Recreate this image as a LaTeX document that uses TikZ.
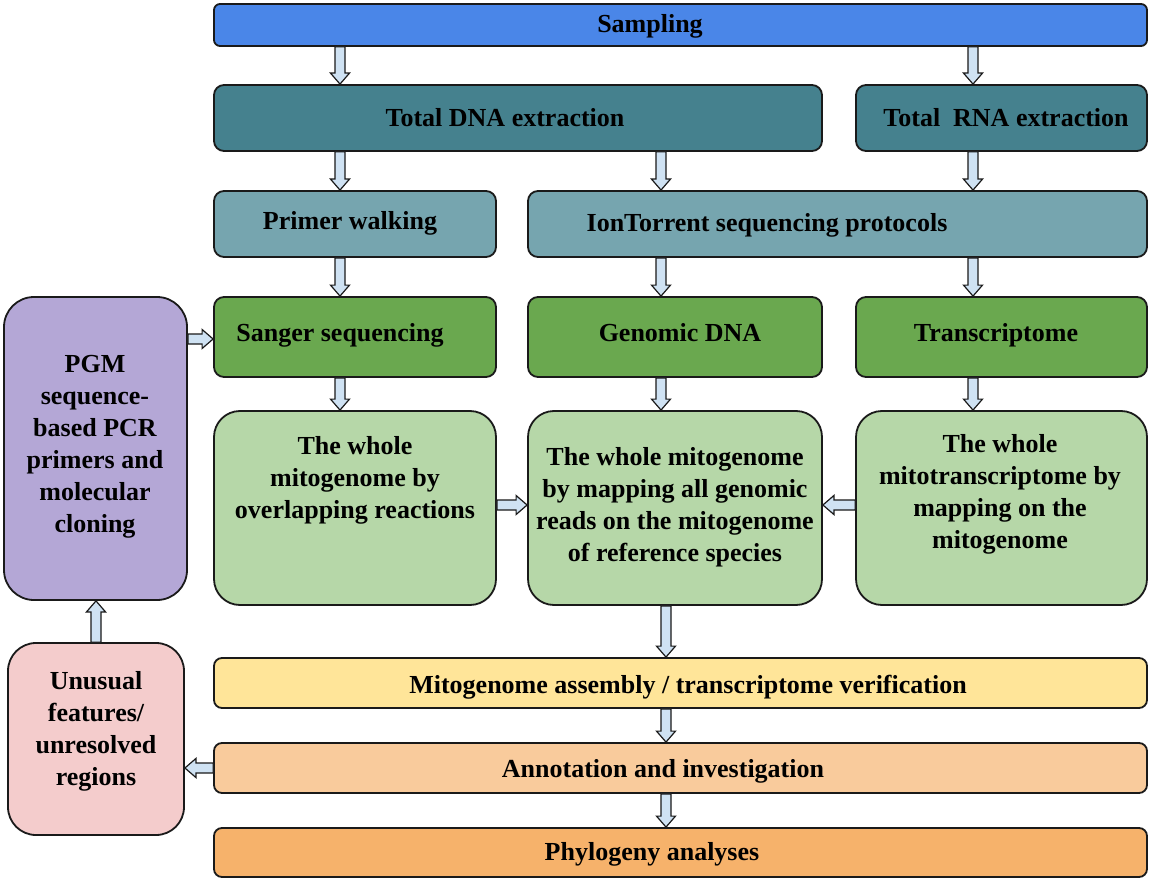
\documentclass[tikz,border=0pt]{standalone}
\usepackage{fontspec}
\setmainfont{Liberation Serif}
\usetikzlibrary{calc}
\definecolor{cSamp}{HTML}{4A86E8}
\definecolor{cTot}{HTML}{45818E}
\definecolor{cPrim}{HTML}{76A5AF}
\definecolor{cGreen}{HTML}{6AA84F}
\definecolor{cLGreen}{HTML}{B6D7A8}
\definecolor{cPurp}{HTML}{B4A7D6}
\definecolor{cPink}{HTML}{F4CCCC}
\definecolor{cYel}{HTML}{FFE599}
\definecolor{cLOr}{HTML}{F9CB9C}
\definecolor{cOr}{HTML}{F6B26B}
\definecolor{cArr}{HTML}{CFE2F3}
\definecolor{cLine}{HTML}{1A1A1A}
\tikzset{
  box/.style={draw=cLine, line width=1.8pt, inner sep=0pt},
  txt/.style={font=\bfseries\fontsize{26}{32}\selectfont, align=center, text=black, inner sep=0pt},
  arr/.style={draw=cLine, fill=cArr, line width=1.2pt, line join=miter},
}
% box: name, x1, y1, x2, y2, fill, radius
\newcommand\bx[7]{\node[box, fill=#6, rounded corners=#7, minimum width={#4-#2}, minimum height={#5-#3}] (#1) at ({(#2+#4)/2},{(#3+#5)/2}) {};}
% block arrow from #1 to #2
\newcommand\barrow[2]{\draw[arr] let \p1=(#1), \p2=(#2), \n1={veclen(\x2-\x1,\y2-\y1)}, \n2={atan2(\y2-\y1,\x2-\x1)} in [shift={(\p1)}, rotate=\n2] (0pt,-5pt) -- ({\n1-11pt},-5pt) -- ({\n1-11pt},-9.5pt) -- (\n1,0pt) -- ({\n1-11pt},9.5pt) -- ({\n1-11pt},5pt) -- (0pt,5pt) -- cycle;}
\begin{document}
\begin{tikzpicture}[x=1pt,y=-1pt]
\useasboundingbox[fill=white] (0,0) rectangle (1149,880);
% boxes
\bx{samp}{214}{4}{1147}{46}{cSamp}{6pt}
\bx{dna}{214}{85}{822}{151}{cTot}{10pt}
\bx{rna}{856}{85}{1147}{151}{cTot}{10pt}
\bx{prim}{214}{191}{496}{257}{cPrim}{10pt}
\bx{ion}{528}{191}{1147}{257}{cPrim}{10pt}
\bx{sang}{214}{297}{496}{377}{cGreen}{10pt}
\bx{gen}{528}{297}{822}{377}{cGreen}{10pt}
\bx{trans}{856}{297}{1147}{377}{cGreen}{10pt}
\bx{w1}{214}{411}{496}{605}{cLGreen}{26pt}
\bx{w2}{528}{411}{822}{605}{cLGreen}{26pt}
\bx{w3}{856}{411}{1147}{605}{cLGreen}{26pt}
\bx{pgm}{4}{297}{187}{600}{cPurp}{30pt}
\bx{unus}{8}{643}{184}{835}{cPink}{28pt}
\bx{asm}{214}{658}{1147}{708}{cYel}{8pt}
\bx{ann}{214}{743}{1147}{793}{cLOr}{8pt}
\bx{phy}{214}{828}{1147}{877}{cOr}{8pt}
% texts
\node[txt] (tsamp) at (650,26) {Sampling};
\node[txt] (tdna) at (505,118) {Total DNA extraction};
\node[txt] (trna) at (1006,118) {Total\ \ RNA extraction};
\node[txt] (tprim) at (350,223) {Primer walking};
\node[txt] (tion) at (767,225) {IonTorrent sequencing protocols};
\node[txt] (tsang) at (340,335) {Sanger sequencing};
\node[txt] (tgen) at (680,333) {Genomic DNA};
\node[txt] (ttrans) at (996,335) {Transcriptome};
\node[txt] (tw1) at (355,480) {The whole\\mitogenome by\\overlapping reactions};
\node[txt] (tw2) at (675,507) {The whole mitogenome\\by mapping all genomic\\reads on the mitogenome\\of reference species};
\node[txt] (tw3) at (1000,494) {The whole\\mitotranscriptome by\\mapping on the\\mitogenome};
\node[txt] (tpgm) at (95,447) {PGM\\sequence-\\based PCR\\primers and\\molecular\\cloning};
\node[txt] (tunus) at (96,731) {Unusual\\features/\\unresolved\\regions};
\node[txt] (tasm) at (688,687) {Mitogenome assembly / transcriptome verification};
\node[txt] (tann) at (663,771) {Annotation and investigation};
\node[txt] (tphy) at (652,854) {Phylogeny analyses};
% arrow columns
\coordinate (xa) at (340,0);
\coordinate (xb) at (661,0);
\coordinate (xc) at (973,0);
\coordinate (xd) at (666,0);
\coordinate (xe) at (96,0);
\coordinate (ya) at (0,505);
\coordinate (yb) at (0,768);
\coordinate (yc) at (0,339);
\barrow{samp.south -| xa}{dna.north -| xa}
\barrow{samp.south -| xc}{rna.north -| xc}
\barrow{dna.south -| xa}{prim.north -| xa}
\barrow{dna.south -| xb}{ion.north -| xb}
\barrow{rna.south -| xc}{ion.north -| xc}
\barrow{prim.south -| xa}{sang.north -| xa}
\barrow{ion.south -| xb}{gen.north -| xb}
\barrow{ion.south -| xc}{trans.north -| xc}
\barrow{sang.south -| xa}{w1.north -| xa}
\barrow{gen.south -| xb}{w2.north -| xb}
\barrow{trans.south -| xc}{w3.north -| xc}
\barrow{w1.east |- ya}{w2.west |- ya}
\barrow{w3.west |- ya}{w2.east |- ya}
\barrow{w2.south -| xd}{asm.north -| xd}
\barrow{asm.south -| xd}{ann.north -| xd}
\barrow{ann.south -| xd}{phy.north -| xd}
\barrow{ann.west |- yb}{unus.east |- yb}
\barrow{unus.north -| xe}{pgm.south -| xe}
\barrow{pgm.east |- yc}{sang.west |- yc}
\end{tikzpicture}
\end{document}
